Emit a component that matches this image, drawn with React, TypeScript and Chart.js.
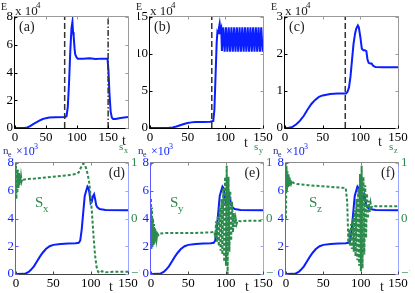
import React, { useEffect, useRef } from 'react';
import { Chart, registerables } from 'chart.js';

Chart.register(...registerables);

const FONT = "'Liberation Serif', 'DejaVu Serif', serif";
const BLUE = 'rgb(10,30,255)';
const GREEN = '#2b8a4c';
const DARK = '#222222';

// ---------- Panel (a): E (x10^4) vs t ----------
const tA = [0, 15, 20, 25, 30, 35, 40, 45, 50, 55, 65, 80, 83, 85, 87, 89, 91, 92.5, 93.5, 94.5, 96, 97, 99, 101, 110, 120, 130, 140, 149, 150.5, 152, 154, 156, 158, 162, 170, 182];
const eA = [0, 0, 0.04, 0.15, 0.3, 0.42, 0.55, 0.65, 0.71, 0.75, 0.77, 0.8, 0.85, 1.5, 3.2, 5.5, 7.2, 7.65, 6.9, 6.6, 5.7, 5.3, 5.1, 5.0, 5.0, 5.02, 4.98, 5.0, 5.0, 4.2, 2.6, 1.2, 0.75, 0.65, 0.65, 0.72, 0.8];
const marksA = [80, 150];
const xTicksTop = [0, 50, 100, 150];
const yTicksA = [0, 2, 4, 6, 8];

// ---------- Panel (b) ----------
const tB = [0, 25, 30, 35, 40, 45, 50, 55, 60, 70, 80, 84, 85.5, 87, 88.5, 89.5, 90.5, 91.5, 92.5, 93.5, 94.5,
  95.5, 97.3, 99.1, 100.9, 102.7, 104.5, 106.3, 108.1, 109.9, 111.7, 113.5, 115.3, 117.1, 118.9, 120.7, 122.5,
  124.3, 126.1, 127.9, 129.7, 131.5, 133.3, 135.1, 136.9, 138.7, 140.5, 142.3, 144.1, 145.9, 147.7, 149.5, 150];
const eB = [0, 0.02, 0.08, 0.2, 0.38, 0.55, 0.68, 0.76, 0.8, 0.82, 0.85, 0.95, 2.5, 7, 11.5, 13, 12.8, 13.5, 14.1, 13.2, 13.5,
  10.4, 13.6, 10.3, 13.6, 10.3, 13.6, 10.3, 13.6, 10.3, 13.6, 10.3, 13.6, 10.3, 13.6, 10.3, 13.6,
  10.3, 13.6, 10.3, 13.6, 10.3, 13.6, 10.3, 13.6, 10.3, 13.6, 10.3, 13.6, 10.3, 13.6, 10.3, 10.8];
const marksB = [82];
const yTicksB = [0, 5, 10, 15];

// ---------- Panel (c) ----------
const tC = [0, 5, 10, 15, 20, 25, 30, 35, 40, 45, 50, 55, 60, 70, 81, 83, 85, 87, 89, 91, 93, 94.5, 96.7, 98, 100, 102, 104, 106, 108, 109.5, 111, 113, 115, 117, 120, 130, 150];
const eC = [0, 0.005, 0.03, 0.1, 0.2, 0.33, 0.5, 0.65, 0.76, 0.84, 0.88, 0.9, 0.92, 0.93, 0.93, 0.98, 1.1, 1.4, 1.85, 2.28, 2.55, 2.68, 2.77, 2.72, 2.46, 2.14, 2.1, 2.1, 2.08, 1.85, 1.76, 1.74, 1.74, 1.68, 1.65, 1.64, 1.64];
const marksC = [80];
const yTicksC = [0, 1, 2, 3];

// ---------- Bottom panels: n_e (x10^3) ----------
const tN = [0, 10, 13, 17, 20, 24, 28, 32, 36, 40, 45, 50, 60, 70, 80, 84, 86, 88, 90, 92, 94, 95.7, 97, 98.5, 100, 101.5, 103, 104.6, 106, 107.5, 109, 112, 120, 150];
const nN = [0, 0.01, 0.04, 0.15, 0.3, 0.55, 0.9, 1.25, 1.55, 1.8, 2.0, 2.1, 2.17, 2.2, 2.22, 2.25, 2.4, 3.2, 4.4, 5.6, 6.0, 6.3, 6.2, 5.8, 5.1, 5.2, 5.6, 5.75, 5.4, 4.95, 4.8, 4.68, 4.62, 4.6];
const yTicksN = [0, 2, 4, 6, 8];
const yTicksS = [-1, 0, 1];
const xTicksBottom = [0, 50, 100, 150];

// (d) s_x
const tSx = [0, 0.5, 1.2, 1.9, 2.6, 3.3, 4.0, 4.7, 5.4, 6.1, 6.8, 7.5, 8.5, 10, 15, 25, 40, 55, 70, 80, 84, 87, 90, 92, 94, 96, 98, 100, 102, 104, 106, 108, 110, 112, 115, 120, 130, 140, 150];
const sX = [0.95, 0.35, 0.9, 0.5, 0.88, 0.55, 0.82, 0.6, 0.78, 0.64, 0.75, 0.67, 0.72, 0.7, 0.71, 0.72, 0.74, 0.76, 0.78, 0.8, 0.83, 0.92, 0.99, 0.97, 0.9, 0.8, 0.65, 0.4, 0.05, -0.35, -0.68, -0.88, -0.96, -0.98, -0.95, -0.97, -0.96, -0.96, -0.96];

// (e) s_y
const tSy = [0, 0.6, 1.3, 2.0, 2.7, 3.4, 4.1, 4.8, 5.5, 6.2, 6.9, 7.6, 8.5, 10, 12, 20, 40, 60, 80, 85,
  86, 87.2, 88.4, 89.6, 90.8, 92, 93.2, 94.4, 95.6, 96.8, 98, 99.2, 100.4, 101.4, 102.6, 103.8, 105, 106.2, 107.4, 108.6,
  109.8, 111, 112.2, 113.4, 114.6, 116, 120, 130, 150];
const sY = [0.35, -0.55, 0.2, -0.5, 0.0, -0.48, -0.1, -0.45, -0.18, -0.4, -0.22, -0.36, -0.27, -0.3, -0.27, -0.26, -0.26, -0.26, -0.25, -0.24,
  -0.35, -0.05, -0.42, 0.05, -0.5, 0.2, -0.58, 0.35, -0.65, 0.55, -0.78, 0.75, -0.85, 0.95, -1.0, 0.75, -0.6, 0.5, -0.4, 0.3,
  -0.25, 0.1, -0.15, 0.0, -0.1, -0.04, -0.05, -0.04, -0.04];

// (f) s_z
const tSz = [0, 0.6, 1.3, 2.0, 2.7, 3.4, 4.1, 4.8, 5.5, 6.2, 7.0, 8, 10, 15, 30, 50, 70, 80, 82,
  83.5, 84.7, 85.9, 87.1, 88.3, 89.5, 90.7, 91.9, 93.1, 94.3, 95.5, 96.7, 97.9, 99.1, 100.3, 101.3, 102.5, 103.7, 104.9, 106.1,
  107.3, 108.5, 109.7, 110.9, 112.1, 113.3, 114.5, 116, 120, 130, 150];
const sZ = [0.0, 0.95, 0.5, 0.85, 0.55, 0.8, 0.58, 0.75, 0.6, 0.7, 0.63, 0.67, 0.64, 0.62, 0.6, 0.58, 0.56, 0.55, 0.3,
  -0.44, -0.2, -0.5, -0.1, -0.55, 0.0, -0.6, 0.15, -0.68, 0.35, -0.75, 0.55, -0.85, 0.8, -0.95, 0.95, -0.9, 0.75, -0.65, 0.6,
  -0.35, 0.45, 0.0, 0.32, 0.12, 0.28, 0.2, 0.23, 0.22, 0.22, 0.22];

const pts = (t: number[], v: number[]) => t.map((x, i) => ({ x, y: v[i] }));

type Txt = { s: string; x: number; y: number; size: number; color?: string; align?: CanvasTextAlign };
type Spec = {
  area: [number, number, number, number];
  xMax: number;
  xTicks: number[];
  yMax: number;
  yTicks: number[];
  yColor: string;
  right: boolean;
  frame: [string, string, string, string];
  datasets: any[];
  texts: Txt[];
};

const solid = (data: any[], yAxisID = 'y') => ({
  data, yAxisID, borderColor: BLUE, borderWidth: 2, pointRadius: 0, tension: 0, fill: false,
});
const greenDash = (data: any[]) => ({
  data, yAxisID: 'y2', borderColor: GREEN, borderWidth: 2, borderDash: [3, 2], pointRadius: 0, tension: 0, fill: false,
});
const vMark = (x: number, top: number, dash: number[]) => ({
  data: [{ x, y: 0 }, { x, y: top }], yAxisID: 'y', borderColor: '#333333', borderWidth: 1.5, borderDash: dash, pointRadius: 0, fill: false,
});

const topFrame: [string, string, string, string] = ['#000000', '#000000', '#9a9a9a', '#9a9a9a'];
const botFrame: [string, string, string, string] = ['#5a5aff', '#444444', '#8a8a8a', '#9aa6ff'];

const topTexts = (ox: number, label: string, tx: number, ty: number): Txt[] => [
  { s: 'E', x: ox + 1, y: 10, size: 10, color: DARK },
  { s: 'x 10', x: ox + 15, y: 15, size: 13, color: DARK },
  { s: '4', x: ox + 36, y: 8, size: 9, color: DARK },
  { s: label, x: ox + 19, y: 31, size: 14, color: DARK },
  { s: 't', x: tx, y: ty, size: 14, color: DARK },
];
const botTexts = (ox: number, sub: string, label: string, bigX: number, tx: number): Txt[] => [
  { s: 'n', x: ox + 3, y: 154, size: 11, color: '#2a2a80' },
  { s: 'e', x: ox + 8, y: 157, size: 8, color: '#2a2a80' },
  { s: '×10', x: ox + 16, y: 155, size: 12, color: BLUE },
  { s: '3', x: ox + 34, y: 149, size: 8, color: BLUE },
  { s: 's', x: ox + 119, y: 150, size: 11, color: GREEN },
  { s: sub, x: ox + 124, y: 153, size: 8, color: GREEN },
  { s: label, x: ox + 125, y: 177, size: 14, color: DARK, align: 'right' },
  { s: 'S', x: bigX, y: 207, size: 15, color: GREEN },
  { s: sub, x: bigX + 8, y: 212, size: 11, color: GREEN },
  { s: 't', x: tx, y: 291, size: 14, color: DARK },
];

const specs: Spec[] = [
  {
    area: [15, 17, 128, 128], xMax: 182, xTicks: xTicksTop, yMax: 8, yTicks: yTicksA, yColor: '#000', right: false, frame: topFrame,
    datasets: [vMark(marksA[0], 8, [6, 3]), vMark(marksA[1], 8, [6, 2, 1.5, 2]), solid(pts(tA, eA))],
    texts: topTexts(0, '(a)', 122, 145),
  },
  {
    area: [150, 17, 263, 128], xMax: 150, xTicks: xTicksTop, yMax: 15, yTicks: yTicksB, yColor: '#000', right: false, frame: topFrame,
    datasets: [vMark(marksB[0], 15, [6, 3]), solid(pts(tB, eB))],
    texts: topTexts(135, '(b)', 244, 147),
  },
  {
    area: [285, 17, 398, 128], xMax: 150, xTicks: xTicksTop, yMax: 3, yTicks: yTicksC, yColor: '#000', right: false, frame: topFrame,
    datasets: [vMark(marksC[0], 3, [6, 3]), solid(pts(tC, eC))],
    texts: topTexts(270, '(c)', 378, 146),
  },
  {
    area: [16, 163, 128, 274], xMax: 150, xTicks: xTicksBottom, yMax: 8, yTicks: yTicksN, yColor: BLUE, right: true, frame: botFrame,
    datasets: [greenDash(pts(tSx, sX)), solid(pts(tN, nN))],
    texts: botTexts(0, 'x', '(d)', 35, 109),
  },
  {
    area: [151, 163, 263, 274], xMax: 150, xTicks: xTicksBottom, yMax: 8, yTicks: yTicksN, yColor: BLUE, right: true, frame: botFrame,
    datasets: [greenDash(pts(tSy, sY)), solid(pts(tN, nN))],
    texts: botTexts(135, 'y', '(e)', 170, 245),
  },
  {
    area: [286, 163, 398, 274], xMax: 150, xTicks: xTicksBottom, yMax: 8, yTicks: yTicksN, yColor: BLUE, right: true, frame: botFrame,
    datasets: [greenDash(pts(tSz, sZ)), solid(pts(tN, nN))],
    texts: botTexts(270, 'z', '(f)', 309, 380),
  },
];

function Panel({ spec }: { spec: Spec }) {
  const ref = useRef<HTMLCanvasElement>(null);
  useEffect(() => {
    const [L, T, R, B] = spec.area;
    const YW = 12;
    const Y2W = 12;
    const XH = 16;
    const tickFont = { family: FONT, size: 13 };
    const overlay = {
      id: 'overlay' + L + T,
      afterDraw(chart: any) {
        const ctx = chart.ctx as CanvasRenderingContext2D;
        const a = chart.chartArea;
        const [cl, cb, ct, cr] = spec.frame;
        ctx.save();
        ctx.setLineDash([]);
        ctx.lineWidth = 1;
        const seg = (x1: number, y1: number, x2: number, y2: number, c: string) => {
          ctx.strokeStyle = c;
          ctx.beginPath();
          ctx.moveTo(x1, y1);
          ctx.lineTo(x2, y2);
          ctx.stroke();
        };
        const l = Math.round(a.left) - 0.5, r = Math.round(a.right) + 0.5;
        const t = Math.round(a.top) - 0.5, b = Math.round(a.bottom) + 0.5;
        seg(l, t, r, t, ct);
        seg(r, t, r, b, cr);
        seg(l, b, r, b, cb);
        seg(l, t, l, b, cl);
        const xs = chart.scales.x;
        spec.xTicks.forEach((v) => {
          const px = Math.round(xs.getPixelForValue(v)) + 0.5;
          seg(px, b, px, b - 3, cb);
          seg(px, t, px, t + 3, ct);
        });
        const ys = chart.scales.y;
        spec.yTicks.forEach((v) => {
          const py = Math.round(ys.getPixelForValue(v)) + 0.5;
          seg(l, py, l + 3, py, cl);
          if (!spec.right) seg(r, py, r - 3, py, cr);
        });
        if (spec.right) {
          const y2 = chart.scales.y2;
          [-1, -0.5, 0, 0.5, 1].forEach((v) => {
            const py = Math.round(y2.getPixelForValue(v)) + 0.5;
            seg(r, py, r - 3, py, cr);
          });
        }
        ctx.textBaseline = 'alphabetic';
        spec.texts.forEach((tx) => {
          ctx.font = `${tx.size}px ${FONT}`;
          ctx.fillStyle = tx.color || DARK;
          ctx.textAlign = tx.align || 'left';
          ctx.fillText(tx.s, tx.x, tx.y);
        });
        ctx.restore();
      },
    };
    const scales: any = {
      x: {
        type: 'linear', min: 0, max: spec.xMax,
        afterBuildTicks: (s: any) => { s.ticks = spec.xTicks.map((value) => ({ value })); },
        afterFit: (s: any) => { s.height = XH; },
        grid: { display: false, drawTicks: false },
        border: { display: false },
        ticks: { color: '#000', font: tickFont, padding: 2, maxRotation: 0, autoSkip: false },
      },
      y: {
        type: 'linear', position: 'left', min: 0, max: spec.yMax,
        afterBuildTicks: (s: any) => { s.ticks = spec.yTicks.map((value) => ({ value })); },
        afterFit: (s: any) => { s.width = YW; },
        grid: { display: false, drawTicks: false },
        border: { display: false },
        ticks: { color: spec.yColor, font: tickFont, padding: 2, autoSkip: false },
      },
    };
    if (spec.right) {
      scales.y2 = {
        type: 'linear', position: 'right', min: -1, max: 1,
        afterBuildTicks: (s: any) => { s.ticks = yTicksS.map((value) => ({ value })); },
        afterFit: (s: any) => { s.width = Y2W; },
        grid: { display: false, drawTicks: false },
        border: { display: false },
        ticks: {
          color: GREEN, font: tickFont, padding: 3, autoSkip: false,
          callback: (v: any) => (v < 0 ? '−' + Math.abs(v) : String(v)),
        },
      };
    }
    const chart = new Chart(ref.current as HTMLCanvasElement, {
      type: 'line',
      data: { datasets: spec.datasets },
      options: {
        responsive: false,
        animation: false,
        events: [],
        layout: {
          padding: {
            left: L - YW,
            top: T,
            right: 415 - R - (spec.right ? Y2W : 0),
            bottom: 293 - B - XH,
          },
        },
        plugins: { legend: { display: false }, tooltip: { enabled: false } },
        scales,
      },
      plugins: [overlay],
    } as any);
    return () => chart.destroy();
  }, [spec]);
  return (
    <canvas
      ref={ref}
      width={415}
      height={293}
      style={{ position: 'absolute', left: 0, top: 0, width: 415, height: 293 }}
    />
  );
}

export default function App() {
  return (
    <div style={{ position: 'absolute', left: 0, top: 0, width: 415, height: 293, background: '#fff', overflow: 'hidden' }}>
      {specs.map((s, i) => (
        <Panel key={i} spec={s} />
      ))}
    </div>
  );
}
